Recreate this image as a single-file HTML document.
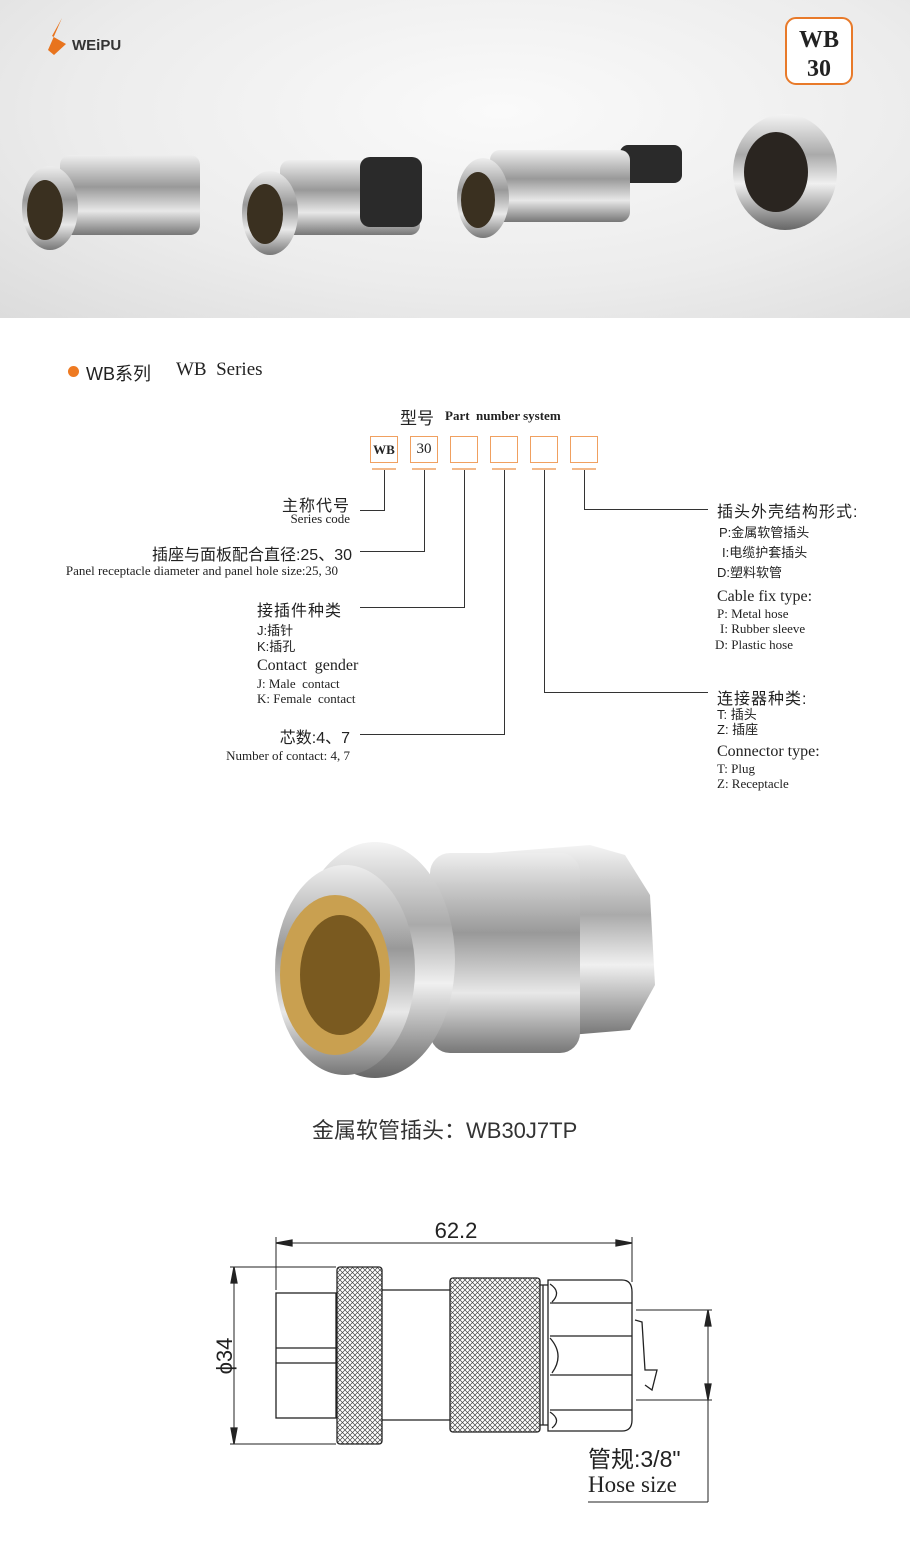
<!DOCTYPE html>
<html><head><meta charset="utf-8"><style>
*{margin:0;padding:0}
body{width:910px;height:1556px;position:relative;background:#fff;font-family:"Liberation Serif","Noto Serif CJK SC",serif;color:#222;overflow:hidden}
.a{position:absolute;white-space:nowrap}
.cn{font-family:"Liberation Sans","Noto Sans CJK SC",sans-serif}
.box{position:absolute;top:436px;width:28px;height:27px;border:1.5px solid #f0a060;box-sizing:border-box;font-size:15px;text-align:center;line-height:25px}
.ul{position:absolute;top:468px;width:24px;height:2px;background:#f3b98a}
.l{position:absolute;background:#333}
.s{font-size:13px}
.m{font-size:16px}
</style></head><body>
<!-- banner -->
<div class="a" style="left:0;top:0;width:910px;height:318px;background:radial-gradient(ellipse at 55% 35%,#fafafa 0%,#ececec 60%,#dcdcdc 100%)"></div>
<svg class="a" style="left:0;top:0" width="910" height="318">
<path d="M62 18 L52 36 L66 44 L54 55 L48 50 Z" fill="#e8741e"/>
<text x="72" y="50" font-family="Liberation Sans" font-weight="bold" font-size="15" fill="#333">WEiPU</text>
<rect x="786" y="18" width="66" height="66" rx="10" fill="#fff" stroke="#e87a2a" stroke-width="2"/>
<text x="819" y="47" text-anchor="middle" font-family="Liberation Serif" font-weight="bold" font-size="24" fill="#222">WB</text>
<text x="819" y="76" text-anchor="middle" font-family="Liberation Serif" font-weight="bold" font-size="24" fill="#222">30</text>
<defs><linearGradient id="mt" x1="0" y1="0" x2="0" y2="1"><stop offset="0" stop-color="#eee"/><stop offset=".4" stop-color="#999"/><stop offset=".7" stop-color="#e8e8e8"/><stop offset="1" stop-color="#777"/></linearGradient>
<linearGradient id="mt2" x1="0" y1="0" x2="0" y2="1"><stop offset="0" stop-color="#f4f4f4"/><stop offset=".35" stop-color="#aaa"/><stop offset=".6" stop-color="#f0f0f0"/><stop offset="1" stop-color="#666"/></linearGradient></defs>
<rect x="60" y="155" width="140" height="80" rx="10" fill="url(#mt)"/><ellipse cx="50" cy="208" rx="28" ry="42" fill="url(#mt)"/><ellipse cx="45" cy="210" rx="18" ry="30" fill="#3a3020"/>
<rect x="280" y="160" width="140" height="75" rx="10" fill="url(#mt)"/><rect x="360" y="157" width="62" height="70" rx="10" fill="#2a2a2a"/><ellipse cx="270" cy="213" rx="28" ry="42" fill="url(#mt)"/><ellipse cx="265" cy="214" rx="18" ry="30" fill="#3a3020"/>
<rect x="620" y="145" width="62" height="38" rx="8" fill="#2a2a2a"/><rect x="490" y="150" width="140" height="72" rx="10" fill="url(#mt)"/><ellipse cx="483" cy="198" rx="26" ry="40" fill="url(#mt)"/><ellipse cx="478" cy="200" rx="17" ry="28" fill="#3a3020"/>
<ellipse cx="785" cy="172" rx="52" ry="58" fill="url(#mt2)"/><ellipse cx="776" cy="172" rx="32" ry="40" fill="#2a2520"/>
</svg>
<!-- series title -->
<div class="a" style="left:68px;top:366px;width:11px;height:11px;border-radius:50%;background:#ee7a22"></div>
<div class="a cn" style="left:86px;top:360px;font-size:18px">WB系列</div>
<div class="a" style="left:176px;top:359px;font-size:19px">WB&nbsp; Series</div>
<!-- part number -->
<div class="a cn" style="left:400px;top:404px;font-size:17px">型号</div>
<div class="a" style="left:445px;top:408px;font-size:13px;font-weight:bold">Part&nbsp; number system</div>
<div class="box" style="left:370px;font-weight:bold;font-size:13px">WB</div><div class="ul" style="left:372px"></div>
<div class="box" style="left:410px">30</div><div class="ul" style="left:412px"></div>
<div class="box" style="left:450px"></div><div class="ul" style="left:452px"></div>
<div class="box" style="left:490px"></div><div class="ul" style="left:492px"></div>
<div class="box" style="left:530px"></div><div class="ul" style="left:532px"></div>
<div class="box" style="left:570px"></div><div class="ul" style="left:572px"></div>
<div class="l" style="left:384px;top:470px;width:1px;height:40px"></div><div class="l" style="left:360px;top:510px;width:25px;height:1px"></div>
<div class="l" style="left:424px;top:470px;width:1px;height:81px"></div><div class="l" style="left:360px;top:551px;width:65px;height:1px"></div>
<div class="l" style="left:464px;top:470px;width:1px;height:137px"></div><div class="l" style="left:360px;top:607px;width:105px;height:1px"></div>
<div class="l" style="left:504px;top:470px;width:1px;height:264px"></div><div class="l" style="left:360px;top:734px;width:145px;height:1px"></div>
<div class="l" style="left:544px;top:470px;width:1px;height:222px"></div><div class="l" style="left:544px;top:692px;width:164px;height:1px"></div>
<div class="l" style="left:584px;top:470px;width:1px;height:39px"></div><div class="l" style="left:584px;top:509px;width:124px;height:1px"></div>
<div class="a cn" style="right:560px;top:492px;font-size:16px;letter-spacing:1px">主称代号</div>
<div class="a s" style="right:560px;top:511px">Series code</div>
<div class="a cn" style="right:558px;top:541px;font-size:16px">插座与面板配合直径:25、30</div>
<div class="a s" style="right:572px;top:563px">Panel receptacle diameter and panel hole size:25, 30</div>
<div class="a cn" style="left:257px;top:597px;font-size:16px;letter-spacing:1px">接插件种类</div>
<div class="a cn s" style="left:257px;top:620px">J:插针</div>
<div class="a cn s" style="left:257px;top:636px">K:插孔</div>
<div class="a m" style="left:257px;top:657px">Contact&nbsp; gender</div>
<div class="a s" style="left:257px;top:676px">J: Male&nbsp; contact</div>
<div class="a s" style="left:257px;top:691px">K: Female&nbsp; contact</div>
<div class="a cn" style="right:560px;top:724px;font-size:16px">芯数:4、7</div>
<div class="a s" style="right:560px;top:748px">Number of contact: 4, 7</div>
<div class="a cn" style="left:717px;top:498px;font-size:16px;letter-spacing:1px">插头外壳结构形式:</div>
<div class="a cn s" style="left:719px;top:522px">P:金属软管插头</div>
<div class="a cn s" style="left:722px;top:542px">I:电缆护套插头</div>
<div class="a cn s" style="left:717px;top:562px">D:塑料软管</div>
<div class="a m" style="left:717px;top:588px">Cable fix type:</div>
<div class="a s" style="left:717px;top:606px">P: Metal hose</div>
<div class="a s" style="left:720px;top:621px">I: Rubber sleeve</div>
<div class="a s" style="left:715px;top:637px">D: Plastic hose</div>
<div class="a cn" style="left:717px;top:685px;font-size:16px;letter-spacing:1px">连接器种类:</div>
<div class="a cn s" style="left:717px;top:704px">T: 插头</div>
<div class="a cn s" style="left:717px;top:719px">Z: 插座</div>
<div class="a m" style="left:717px;top:743px">Connector type:</div>
<div class="a s" style="left:717px;top:761px">T: Plug</div>
<div class="a s" style="left:717px;top:776px">Z: Receptacle</div>
<!-- big photo -->
<svg class="a" style="left:250px;top:835px" width="420" height="250">
<path d="M190 22 L340 10 L375 20 L400 60 L405 150 L380 195 L200 210 Z" fill="url(#mt2)"/>
<rect x="180" y="18" width="150" height="200" rx="20" fill="url(#mt)"/>
<ellipse cx="125" cy="125" rx="80" ry="118" fill="url(#mt2)"/>
<ellipse cx="95" cy="135" rx="70" ry="105" fill="url(#mt)"/>
<ellipse cx="85" cy="140" rx="55" ry="80" fill="#c9a050"/>
<ellipse cx="90" cy="140" rx="40" ry="60" fill="#7a5a20"/>
</svg>
<div class="a cn" style="left:312px;top:1113px;font-size:22px;color:#333">金属软管插头：WB30J7TP</div>
<!-- drawing -->
<svg class="a" style="left:0;top:0" width="910" height="1556" fill="none" stroke="#222" stroke-width="1.3">
<defs><pattern id="k" width="5" height="5" patternUnits="userSpaceOnUse"><path d="M0 0L5 5M5 0L0 5" stroke="#444" stroke-width=".7"/></pattern></defs>
<line x1="276" y1="1237" x2="276" y2="1290" stroke-width="1"/><line x1="632" y1="1237" x2="632" y2="1282" stroke-width="1"/>
<line x1="280" y1="1243" x2="628" y2="1243" stroke-width="1"/>
<path d="M276 1243 L292 1240 L292 1246Z M632 1243 L616 1240 L616 1246Z" fill="#222"/>
<text x="456" y="1238" text-anchor="middle" font-family="Liberation Sans" font-size="22" fill="#222" stroke="none">62.2</text>
<line x1="230" y1="1267" x2="336" y2="1267" stroke-width="1"/><line x1="230" y1="1444" x2="336" y2="1444" stroke-width="1"/>
<line x1="234" y1="1267" x2="234" y2="1444" stroke-width="1"/>
<path d="M234 1267 L231 1283 L237 1283Z M234 1444 L231 1428 L237 1428Z" fill="#222"/>
<text transform="translate(232,1356) rotate(-90)" text-anchor="middle" font-family="Liberation Sans" font-size="22" fill="#222" stroke="none">ϕ34</text>
<rect x="276" y="1293" width="60" height="125"/>
<line x1="276" y1="1348" x2="336" y2="1348"/><line x1="276" y1="1363" x2="336" y2="1363"/>
<rect x="337" y="1267" width="45" height="177" rx="3" fill="url(#k)"/>
<line x1="382" y1="1290" x2="450" y2="1290"/><line x1="382" y1="1420" x2="450" y2="1420"/>
<rect x="450" y="1278" width="90" height="154" rx="3" fill="url(#k)"/>
<path d="M540 1285 L548 1285 M540 1425 L548 1425 M543 1285 L543 1425"/>
<path d="M548 1280 L622 1280 Q632 1280 632 1292 L632 1420 Q632 1431 622 1431 L548 1431 Z"/>
<path d="M550 1303 L632 1303 M550 1336 L632 1336 M550 1375 L632 1375 M550 1410 L632 1410"/>
<path d="M550 1284 Q562 1292 552 1302 M550 1338 Q565 1355 552 1373 M550 1412 Q562 1420 552 1428"/>
<path d="M635 1320 L642 1322 L645 1370 L657 1370 L652 1390 L645 1385"/>
<line x1="636" y1="1310" x2="712" y2="1310" stroke-width="1"/><line x1="636" y1="1400" x2="712" y2="1400" stroke-width="1"/>
<line x1="708" y1="1310" x2="708" y2="1502" stroke-width="1"/>
<path d="M708 1310 L705 1326 L711 1326Z M708 1400 L705 1384 L711 1384Z" fill="#222"/>
<line x1="588" y1="1502" x2="708" y2="1502" stroke-width="1"/>
</svg>
<div class="a cn" style="left:588px;top:1440px;font-size:23px;color:#222">管规:3/8"</div>
<div class="a" style="left:588px;top:1472px;font-size:23px;color:#222">Hose size</div>
</body></html>
